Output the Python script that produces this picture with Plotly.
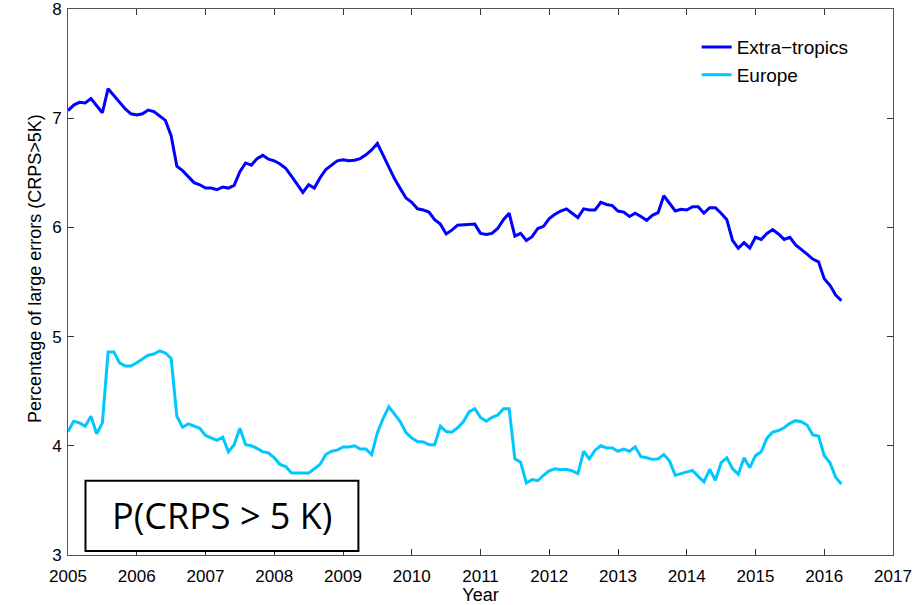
import plotly.graph_objects as go

extra_tropics = [
    7.07, 7.12, 7.145, 7.14, 7.18, 7.115, 7.05, 7.27, 7.21, 7.14,
    7.085, 7.04, 7.03, 7.04, 7.075, 7.06, 7.02, 6.98, 6.84, 6.56,
    6.52, 6.46, 6.41, 6.39, 6.36, 6.36, 6.345, 6.37, 6.36, 6.385,
    6.51, 6.59, 6.57, 6.63, 6.66, 6.625, 6.61, 6.58, 6.54, 6.47,
    6.40, 6.32, 6.39, 6.36, 6.455, 6.53, 6.57, 6.61, 6.62, 6.61,
    6.615, 6.63, 6.665, 6.71, 6.77, 6.66, 6.56, 6.445, 6.355, 6.27,
    6.23, 6.17, 6.16, 6.14, 6.07, 6.03, 5.94, 5.975, 6.02, 6.025,
    6.03, 6.03, 5.945, 5.935, 5.945, 5.99, 6.07, 6.13, 5.92, 5.945,
    5.88, 5.915, 5.99, 6.01, 6.08, 6.12, 6.15, 6.17, 6.13, 6.09,
    6.17, 6.16, 6.16, 6.23, 6.21, 6.20, 6.15, 6.14, 6.10, 6.13,
    6.10, 6.065, 6.11, 6.135, 6.29, 6.22, 6.15, 6.165, 6.16, 6.19,
    6.19, 6.13, 6.18, 6.18, 6.13, 6.07, 5.88, 5.81, 5.86, 5.81,
    5.91, 5.89, 5.945, 5.98, 5.94, 5.89, 5.91, 5.84, 5.80, 5.755,
    5.71, 5.685, 5.53, 5.47, 5.38, 5.33,
]

europe = [
    4.13, 4.225, 4.21, 4.18, 4.27, 4.11, 4.21, 4.86, 4.86, 4.76,
    4.73, 4.73, 4.76, 4.795, 4.83, 4.84, 4.87, 4.85, 4.80, 4.27,
    4.17, 4.20, 4.18, 4.16, 4.095, 4.07, 4.05, 4.08, 3.945, 4.01,
    4.16, 4.01, 4.00, 3.976, 3.945, 3.935, 3.89, 3.83, 3.81, 3.75,
    3.75, 3.75, 3.75, 3.79, 3.83, 3.92, 3.95, 3.96, 3.99, 3.99,
    4.00, 3.97, 3.97, 3.92, 4.12, 4.25, 4.357, 4.29, 4.22, 4.12,
    4.07, 4.04, 4.035, 4.01, 4.01, 4.18, 4.13, 4.125, 4.165, 4.22,
    4.31, 4.34, 4.26, 4.225, 4.26, 4.28, 4.34, 4.34, 3.88, 3.85,
    3.66, 3.69, 3.68, 3.73, 3.77, 3.79, 3.78, 3.785, 3.77, 3.745,
    3.95, 3.88, 3.96, 4.00, 3.98, 3.98, 3.95, 3.97, 3.95, 3.99,
    3.90, 3.89, 3.876, 3.88, 3.92, 3.86, 3.73, 3.745, 3.76, 3.775,
    3.72, 3.67, 3.785, 3.685, 3.845, 3.89, 3.79, 3.74, 3.89, 3.80,
    3.91, 3.945, 4.07, 4.125, 4.14, 4.165, 4.205, 4.23, 4.22, 4.19,
    4.10, 4.09, 3.91, 3.845, 3.71, 3.65,
]

start_year = 2005
years = [start_year + i / 12 for i in range(len(extra_tropics))]
x_ticks = list(range(2005, 2018))
y_ticks = [3, 4, 5, 6, 7, 8]

FONT = "Liberation Sans, Arial, sans-serif"

fig = go.Figure()
fig.add_trace(go.Scatter(x=years, y=extra_tropics, mode="lines", name="Extra\u2212tropics",
                         legendgroup="a", line=dict(color="#0000FF", width=3)))
fig.add_trace(go.Scatter(x=years, y=europe, mode="lines", name="Europe",
                         legendgroup="b", line=dict(color="#00C8FF", width=3)))

axis_common = dict(showline=True, linecolor="#555555", linewidth=1, mirror="ticks",
                   ticks="inside", ticklen=6, tickcolor="#333333", showgrid=False,
                   zeroline=False, automargin=False, ticklabeloverflow="allow")

fig.update_xaxes(range=[2005, 2017], tickvals=x_ticks, ticktext=[str(v) for v in x_ticks],
                 tickfont=dict(family=FONT, size=17, color="black"), ticklabelstandoff=6,
                 title=dict(text="Year", font=dict(family=FONT, size=18, color="black"), standoff=3),
                 **axis_common)
fig.update_yaxes(range=[3, 8], tickvals=y_ticks,
                 tickfont=dict(family=FONT, size=17, color="black"), ticklabelstandoff=2,
                 **axis_common)

# y-axis title placed as a rotated annotation (sits slightly above the plot centre, as in the reference)
fig.add_annotation(xref="paper", yref="paper", x=0, y=0.524, xshift=-33,
                   text="Percentage of large errors (CRPS>5K)", textangle=-90, showarrow=False,
                   font=dict(family=FONT, size=18, color="black"), xanchor="center", yanchor="middle")

fig.add_shape(type="rect", xref="paper", yref="paper", x0=0.0212, x1=0.352, y0=0.0073, y1=0.1362,
              line=dict(color="black", width=2), fillcolor="white", layer="above")
fig.add_annotation(xref="paper", yref="paper", x=0.1866, y=0.0718, text="P(CRPS > 5 K)",
                   showarrow=False, font=dict(family="Open Sans, sans-serif", size=36, color="black"),
                   xanchor="center", yanchor="middle")

fig.update_layout(
    width=921, height=605,
    margin=dict(l=68, r=28, t=9, b=50),
    paper_bgcolor="white", plot_bgcolor="white",
    legend=dict(x=0.762, y=0.965, xanchor="left", yanchor="top", bgcolor="rgba(0,0,0,0)",
                font=dict(family=FONT, size=19, color="black"), tracegroupgap=0, itemwidth=30),
    showlegend=True,
)

fig.write_html("out.html", config={"displayModeBar": False},
               post_script="document.body.style.margin='0px';")
